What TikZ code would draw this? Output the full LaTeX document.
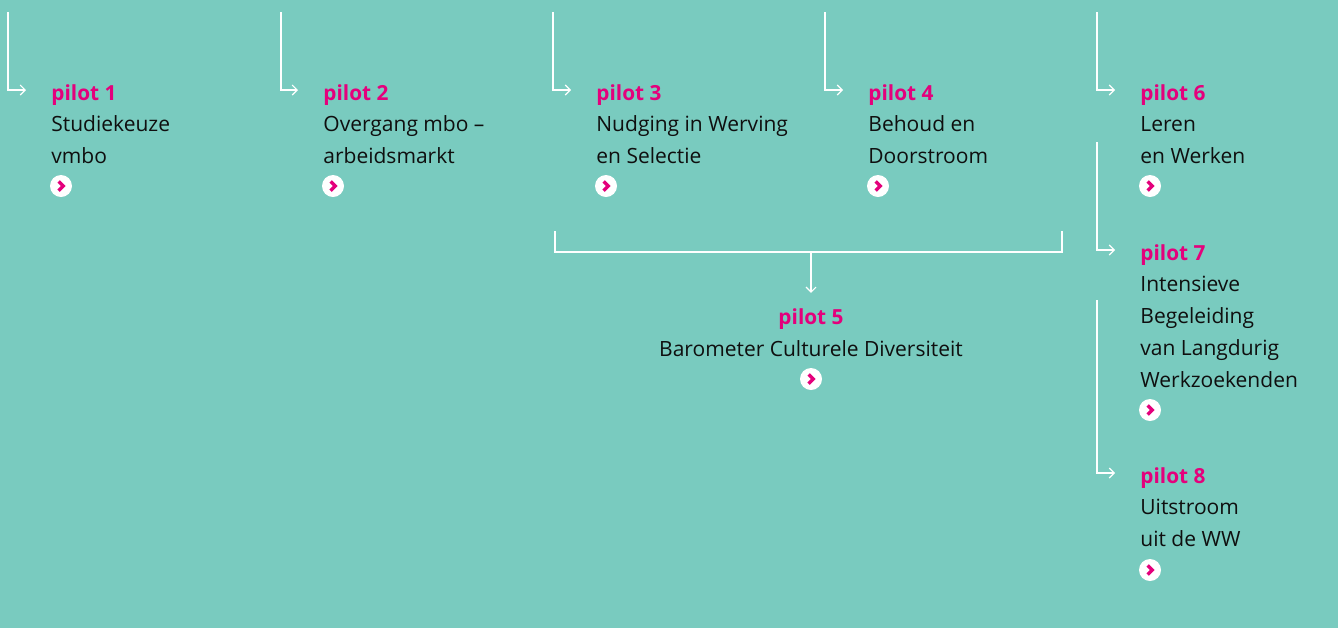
\documentclass[tikz,border=0pt]{standalone}
\usepackage{fontspec}
\setmainfont{Open Sans}
\usetikzlibrary{positioning,arrows.meta}

\definecolor{bg}{RGB}{121,203,191}
\definecolor{pilotpink}{RGB}{228,0,124}
\definecolor{ink}{RGB}{15,15,15}

\tikzset{
  pilot title/.style={anchor=base west, inner sep=0pt, text=pilotpink,
    font=\fontsize{10.4}{12}\selectfont\bfseries},
  pilot line/.style={anchor=base west, inner sep=0pt, text=ink,
    font=\fontsize{10.5}{12}\selectfont},
  more/.style={circle, fill=white, minimum size=11pt, inner sep=0pt,
    path picture={\draw[pilotpink, line width=1.7pt]
      ([shift={(-1.2pt,2.3pt)}]path picture bounding box.center)
      -- ++(2.3pt,-2.3pt) -- ++(-2.3pt,-2.3pt);}},
  link/.style={white, line width=0.55pt}
}

\begin{document}
\begin{tikzpicture}[x=0.5pt, y=-0.5pt, >={Straight Barb[length=2.5pt,width=5pt]}]

\fill[bg] (0,0) rectangle (1338,628);
\useasboundingbox (0,0) rectangle (1338,628);

\foreach \n/\x/\y/\lines/\m in {1/51/100/{Studiekeuze,vmbo}/186,
    2/323/100/{Overgang mbo –,arbeidsmarkt}/186,
    3/596/100/{Nudging in Werving,en Selectie}/186,
    4/868/100/{Behoud en,Doorstroom}/186,
    6/1140/100/{Leren,en Werken}/186,
    7/1140/260/{Intensieve,Begeleiding,van Langdurig,Werkzoekenden}/410,
    8/1140/483/{Uitstroom,uit de WW}/570}
{
  \node [pilot title] (pilot-\n) at (\x,\y) {pilot \n};
  \foreach \l [count=\k] in \lines
    \node [pilot line] (line-\n-\k) at (\x,\y+\k*31.75) {\l};
  \node [more] (more-\n) at (\x+10,\m) {};
}

\node [pilot title, anchor=base] (pilot-5) at (811,324) {pilot 5};
\node [pilot line, anchor=base] (line-5-1) at (811,356) {Barometer Culturele Diversiteit};
\node [more] (more-5) at (811,379) {};

\foreach \n/\x in {1/8,2/281,3/553,4/825,6/1097}
  \coordinate (top-\n) at (\x,12);
\coordinate (top-7) at (1097,142);
\coordinate (top-8) at (1097,300);

\foreach \n in {1,2,3,4,6,7,8}
  \draw [link,->] (top-\n) |- ([shift={(-12.5pt,5pt)}]pilot-\n.base west);

\coordinate (join-l) at (555,231);
\coordinate (join-r) at (1062,231);
\coordinate (join-m) at (811,252);

\draw [link] (join-l) -- ++(0,21) -| (join-r);
\draw [link,->] (join-m) -- ([yshift=7.5pt]pilot-5.north);

\end{tikzpicture}
\end{document}
